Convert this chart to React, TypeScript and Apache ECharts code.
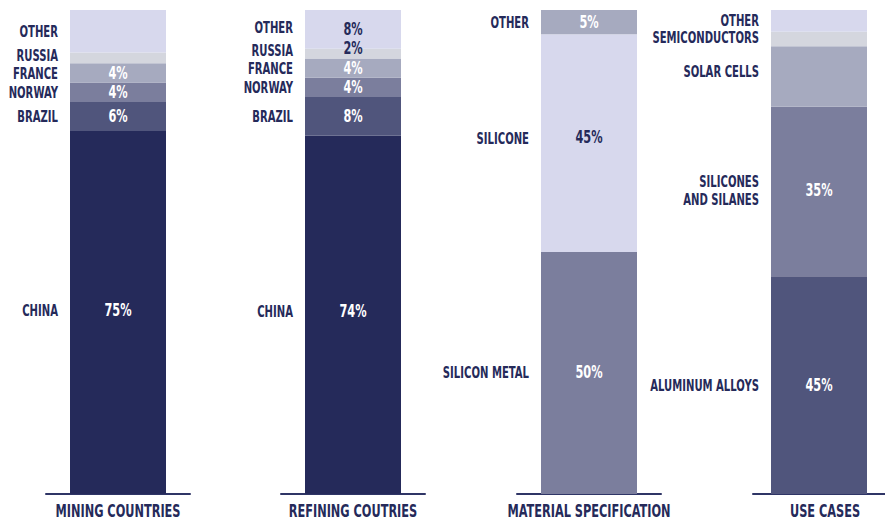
import React, { useEffect, useRef } from "react";
import * as echarts from "echarts";

const columnTitles = ["MINING COUNTRIES", "REFINING COUTRIES", "MATERIAL SPECIFICATION", "USE CASES"];

const miningNames = ["CHINA", "BRAZIL", "NORWAY", "FRANCE", "RUSSIA", "OTHER"];
const miningValues = [75, 6, 4, 4, 2.2, 8.8];
const miningShown = [true, true, true, true, false, false];

const refiningNames = ["CHINA", "BRAZIL", "NORWAY", "FRANCE", "RUSSIA", "OTHER"];
const refiningValues = [74, 8, 4, 4, 2, 8];
const refiningShown = [true, true, true, true, true, true];

const materialNames = ["SILICON METAL", "SILICONE", "OTHER"];
const materialValues = [50, 45, 5];
const materialShown = [true, true, true];

const useNames = ["ALUMINUM ALLOYS", "SILICONES\nAND SILANES", "SOLAR CELLS", "SEMICONDUCTORS", "OTHER"];
const useValues = [45, 35, 12.5, 3, 4.5];
const useShown = [true, true, false, false, false];

// label nudges (pixels, style only)
const miningNameNudge = [-2, 0, 0, 0, -3, 0];
const miningPctNudge = [-2, 0, 0, 0, 0, 0];
const refiningNameNudge = [-4, 0, 0, 0, -3, -2];
const refiningPctNudge = [-4, 0, 0, 0, -5, 0];
const materialNameNudge = [-1, -5, 0];
const materialPctNudge = [-1, -6, 0];
const useNameNudge = [0, -1, -5, -2, -1];
const usePctNudge = [0, -1, 0, 0, 0];

const NAVY = "#252a5a";
const C1 = "#50557c";
const C2 = "#7b7e9d";
const C3 = "#a6aabf";
const C4 = "#d4d6de";
const C5 = "#d7d8ed";

const miningColors = [NAVY, C1, C2, C3, C4, C5];
const refiningColors = [NAVY, C1, C2, C3, C4, C5];
const materialColors = [C2, C5, C3];
const useColors = [C1, C2, C3, C4, C5];

const FONT = "'Liberation Sans Narrow', 'DejaVu Sans Condensed', sans-serif";

const gridLefts = [46, 281, 517, 753];
const gridWidth = 144;
const BAR_W = 96;

const isLight = (c: string) => c === C4 || c === C5;

export default function App() {
  const ref = useRef<HTMLDivElement>(null);
  useEffect(() => {
    if (!ref.current) return;
    const chart = echarts.init(ref.current, undefined, { renderer: "svg" });
    const cols = [
      { names: miningNames, values: miningValues, shown: miningShown, colors: miningColors, nn: miningNameNudge, pn: miningPctNudge },
      { names: refiningNames, values: refiningValues, shown: refiningShown, colors: refiningColors, nn: refiningNameNudge, pn: refiningPctNudge },
      { names: materialNames, values: materialValues, shown: materialShown, colors: materialColors, nn: materialNameNudge, pn: materialPctNudge },
      { names: useNames, values: useValues, shown: useShown, colors: useColors, nn: useNameNudge, pn: usePctNudge },
    ];
    const grid = gridLefts.map((l) => ({ left: l, width: gridWidth, top: 10, bottom: 28 }));
    const xAxis = columnTitles.map((t, i) => ({
      type: "category",
      gridIndex: i,
      data: [t],
      axisLine: { lineStyle: { color: "#2f3566", width: 2 } },
      axisTick: { show: false },
      axisLabel: { show: false },
    }));
    const yAxis = columnTitles.map((_, i) => ({
      type: "value",
      gridIndex: i,
      min: 0,
      max: 100,
      show: false,
      splitLine: { show: false },
    }));
    const series: any[] = [];
    cols.forEach((col, i) => {
      col.values.forEach((v, j) => {
        series.push({
          type: "bar",
          xAxisIndex: i,
          yAxisIndex: i,
          stack: "v" + i,
          data: [v],
          barWidth: BAR_W,
          itemStyle: { color: col.colors[j] },
          label: { show: false },
        });
      });
    });
    chart.setOption({ animation: false, grid, xAxis, yAxis, series });

    const graphic: any[] = [];
    cols.forEach((col, i) => {
      let cum = 0;
      col.values.forEach((v, j) => {
        const mid = cum + v / 2;
        cum += v;
        const p = chart.convertToPixel({ gridIndex: i } as any, [0, mid]) as number[];
        const color = col.colors[j];
        graphic.push({
          type: "text",
          x: p[0] - BAR_W / 2 - 12,
          y: p[1] + col.nn[j],
          scaleX: 0.7,
          z: 100,
          silent: true,
          style: {
            text: col.names[j],
            align: "right",
            verticalAlign: "middle",
            fill: NAVY,
            fontSize: 16,
            fontWeight: "bold",
            fontFamily: FONT,
            lineHeight: 18,
          },
        });
        if (col.shown[j]) {
          graphic.push({
            type: "text",
            x: p[0],
            y: p[1] + col.pn[j],
            scaleX: 0.7,
            z: 100,
            silent: true,
            style: {
              text: Math.round(v) + "%",
              align: "center",
              verticalAlign: "middle",
              fill: isLight(color) ? NAVY : "#ffffff",
              fontSize: 18,
              fontWeight: "bold",
              fontFamily: FONT,
            },
          });
        }
      });
      const base = chart.convertToPixel({ gridIndex: i } as any, [0, 0]) as number[];
      graphic.push({
        type: "text",
        x: gridLefts[i] + gridWidth / 2,
        y: base[1] + 17,
        scaleX: 0.7,
        z: 100,
        silent: true,
        style: {
          text: columnTitles[i],
          align: "center",
          verticalAlign: "middle",
          fill: NAVY,
          fontSize: 18,
          fontWeight: "bold",
          fontFamily: FONT,
        },
      });
    });
    chart.setOption({ graphic });
    return () => chart.dispose();
  }, []);
  return (
    <div
      ref={ref}
      style={{ position: "fixed", left: 0, top: 0, width: 885, height: 522, background: "#ffffff" }}
    />
  );
}
